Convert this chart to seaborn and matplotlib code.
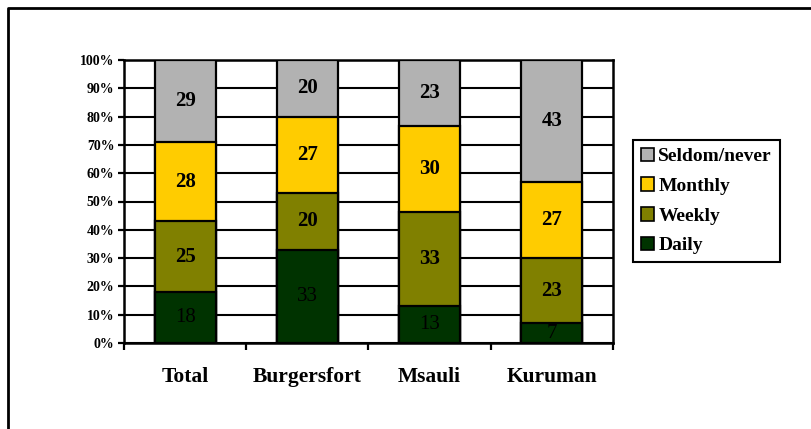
import matplotlib
matplotlib.use("Agg")
import matplotlib.pyplot as plt
import seaborn as sns
import pandas as pd
import numpy as np
from matplotlib.lines import Line2D
from matplotlib.patches import Patch

# Survey data: how often respondents do the activity, by site (counts in %)
sites = ["Total", "Burgersfort", "Msauli", "Kuruman"]
daily = [18, 33, 13, 7]
weekly = [25, 20, 33, 23]
monthly = [28, 27, 30, 27]
seldom = [29, 20, 23, 43]

series_names = ["Daily", "Weekly", "Monthly", "Seldom/never"]
series_colors = ["#003300", "#808000", "#FFCC00", "#B2B2B2"]
y_ticks = [0, 10, 20, 30, 40, 50, 60, 70, 80, 90, 100]
y_tick_labels = [f"{v}%" for v in y_ticks]

sns.set_theme(style="white")
plt.rcParams["font.family"] = ["Liberation Serif", "DejaVu Serif"]
plt.rcParams["font.weight"] = "bold"
plt.rcParams["text.color"] = "black"
plt.rcParams["xtick.color"] = "black"
plt.rcParams["ytick.color"] = "black"
plt.rcParams["xtick.labelcolor"] = "black"
plt.rcParams["ytick.labelcolor"] = "black"

fig = plt.figure(figsize=(8.12, 4.29), dpi=100)
ax = fig.add_axes([124 / 812, 1 - 343 / 429, (613 - 124) / 812, (343 - 60) / 429])

counts = np.array([daily, weekly, monthly, seldom], dtype=float)
shares = counts / counts.sum(axis=0) * 100
tops = np.cumsum(shares, axis=0)
bottoms = tops - shares

# Stacked 100% bars: draw cumulative heights, tallest layer first
for i in reversed(range(len(series_names))):
    df = pd.DataFrame({"site": sites, "top": tops[i]})
    sns.barplot(data=df, x="site", y="top", order=sites, color=series_colors[i],
                saturation=1, width=0.5, edgecolor="black", linewidth=1.6,
                errorbar=None, ax=ax, zorder=3)

# Segment value labels
for i in range(len(series_names)):
    for j in range(len(sites)):
        ax.text(j, bottoms[i, j] + shares[i, j] / 2, f"{int(counts[i, j])}",
                ha="center", va="center", fontsize=15, color="black",
                fontweight="normal" if series_names[i] == "Daily" else "bold",
                zorder=5)

ax.set_xlim(-0.5, 3.5)
ax.set_ylim(0, 100)
ax.set_xlabel("")
ax.set_ylabel("")
ax.set_yticks(y_ticks)
ax.set_yticklabels(y_tick_labels, fontsize=10, fontweight="bold", color="black")
ax.set_xticks(range(len(sites)))
ax.set_xticklabels(sites, fontsize=15.5, fontweight="bold", color="black")
ax.set_xticks(np.arange(-0.5, len(sites), 1), minor=True)
ax.tick_params(axis="x", which="major", length=0, pad=17)
ax.tick_params(axis="x", which="minor", length=5, width=1.6, direction="out", color="black", bottom=True)
ax.tick_params(axis="y", which="major", length=4, width=1.6, direction="out", color="black", left=True, pad=3)

ax.yaxis.grid(True, color="black", linewidth=1.5, zorder=0)
ax.xaxis.grid(False)
ax.set_axisbelow(True)
for side in ["left", "right", "bottom", "top"]:
    ax.spines[side].set_visible(True)
    ax.spines[side].set_color("black")
    ax.spines[side].set_linewidth(1.8)

# Legend, top series first
handles = [Patch(facecolor=series_colors[i], edgecolor="black", linewidth=1.2, label=series_names[i])
           for i in reversed(range(len(series_names)))]
leg = fig.legend(handles=handles, loc="upper left", bbox_to_anchor=(633 / 812, 1 - 140 / 429),
                 frameon=True, fancybox=False, edgecolor="black", framealpha=1,
                 prop={"size": 14, "weight": "bold"}, borderaxespad=0,
                 handlelength=0.7, handleheight=0.7, handletextpad=0.2,
                 labelspacing=0.62, borderpad=0.4)
leg.get_frame().set_linewidth(1.5)
for t in leg.get_texts():
    t.set_color("black")

# Outer frame of the chart area
fig.add_artist(Line2D([8 / 812, 8 / 812, 1], [0, 1 - 8 / 429, 1 - 8 / 429],
                      color="black", linewidth=2, transform=fig.transFigure))

fig.savefig("out.png", dpi=100)
